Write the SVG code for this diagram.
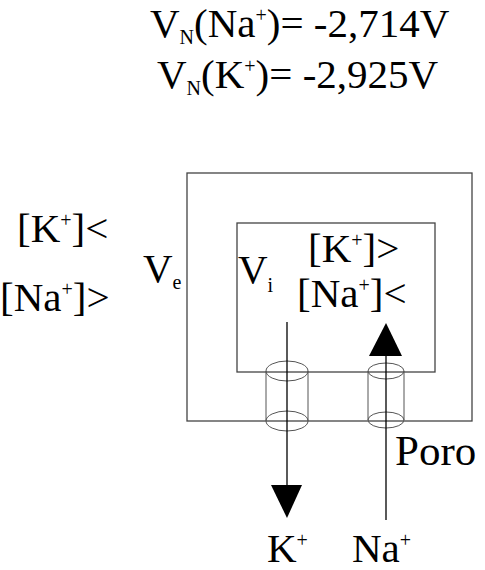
<svg xmlns="http://www.w3.org/2000/svg" width="485" height="570" viewBox="0 0 485 570">
<style>
text{font-family:"Liberation Serif","Times New Roman",serif;fill:#000;font-size:41px}
.t{font-size:41px}
.s{font-size:20px}
.box{fill:none;stroke:#444;stroke-width:1.3}
.cyl{fill:none;stroke:#555;stroke-width:1}
.ln{stroke:#000;stroke-width:1.3;fill:none}
</style>
<rect width="485" height="570" fill="#fff"/>
<g id="equations">
<text class="t" x="150" y="37">V<tspan class="s" dy="7">N</tspan><tspan dy="-7">(Na</tspan><tspan class="s" dy="-15">+</tspan><tspan dy="15">)= -2,714V</tspan></text>
<text class="t" x="157" y="88">V<tspan class="s" dy="7">N</tspan><tspan dy="-7">(K</tspan><tspan class="s" dy="-15">+</tspan><tspan dy="15">)= -2,925V</tspan></text>
</g>
<g id="outer-cell">
<rect class="box" x="187" y="173" width="285" height="248"/>
</g>
<g id="inner-cell">
<rect class="box" x="237" y="223" width="198" height="149"/>
</g>
<g id="labels-outside">
<text x="17" y="242">[K<tspan class="s" dy="-15">+</tspan><tspan dy="15">]&lt;</tspan></text>
<text x="0" y="311">[Na<tspan class="s" dy="-15">+</tspan><tspan dy="15">]&gt;</tspan></text>
<text x="143" y="282">V<tspan class="s" dy="7">e</tspan></text>
</g>
<g id="labels-inside">
<text x="238" y="283">V<tspan class="s" dy="9">i</tspan></text>
<text x="308" y="262">[K<tspan class="s" dy="-15">+</tspan><tspan dy="15">]&gt;</tspan></text>
<text x="297" y="307">[Na<tspan class="s" dy="-15">+</tspan><tspan dy="15">]&lt;</tspan></text>
</g>
<g id="channel-k">
<path class="cyl" d="M266,371 v50 M308,371 v50"/>
<ellipse class="cyl" cx="287" cy="371" rx="21" ry="10"/>
<ellipse class="cyl" cx="287" cy="421" rx="21" ry="10"/>
</g>
<g id="channel-na">
<path class="cyl" d="M368,371 v49 M404,371 v49"/>
<ellipse class="cyl" cx="386" cy="371" rx="18" ry="8"/>
<ellipse class="cyl" cx="386" cy="420" rx="18" ry="8"/>
</g>
<g id="connectors">
<line class="ln" x1="287" y1="322" x2="287" y2="486"/>
<polygon points="271,485 302,485 287,518" fill="#000"/>
<line class="ln" x1="386" y1="520" x2="386" y2="355"/>
<polygon points="369,356 402,356 386,323" fill="#000"/>
</g>
<g id="bottom-labels">
<text x="395" y="465" style="font-size:43px">Poro</text>
<text x="267" y="562">K<tspan class="s" dy="-15">+</tspan></text>
<text x="352" y="562">Na<tspan class="s" dy="-15">+</tspan></text>
</g>
</svg>
